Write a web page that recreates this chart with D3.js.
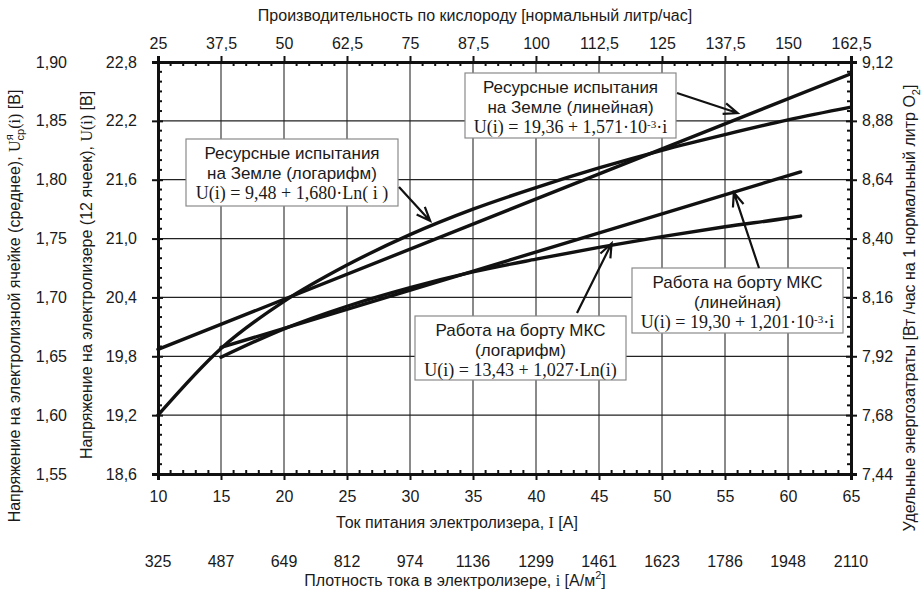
<!DOCTYPE html>
<html>
<head>
<meta charset="utf-8">
<script src="https://cdn.jsdelivr.net/npm/d3@7"></script>
<style>
body { margin: 0; background: #fff; }
svg text { font-family: "Liberation Sans", Arial, sans-serif; fill: #1a1a1a; }
.serif { font-family: "Liberation Serif", "Times New Roman", serif; }
</style>
</head>
<body>
<svg id="chart" width="924" height="594"></svg>
<script>
// axis ticks
const currentTicks = [10, 15, 20, 25, 30, 35, 40, 45, 50, 55, 60, 65]
const productivityTicks = ['25', '37,5', '50', '62,5', '75', '87,5', '100', '112,5', '125', '137,5', '150', '162,5']
const densityTicks = ['325', '487', '649', '812', '974', '1136', '1299', '1461', '1623', '1786', '1948', '2110']
const voltageTicks = [18.6, 19.2, 19.8, 20.4, 21.0, 21.6, 22.2, 22.8]
const cellTicks = [1.55, 1.60, 1.65, 1.70, 1.75, 1.80, 1.85, 1.90]
const energyTicks = [7.44, 7.68, 7.92, 8.16, 8.40, 8.64, 8.88, 9.12]

// series: current I [A] -> voltage U [V]
const earthLogI = [10, 15, 20, 25, 30, 35, 40, 45, 50, 55, 60, 65]
const earthLogU = [19.20, 19.88, 20.36, 20.73, 21.04, 21.30, 21.52, 21.72, 21.90, 22.06, 22.21, 22.34]
const earthLinI = [10, 65]
const earthLinU = [19.87, 22.68]
const issLogI = [15, 20, 25, 30, 35, 40, 45, 50, 55, 60, 61]
const issLogU = [19.79, 20.08, 20.31, 20.50, 20.66, 20.79, 20.91, 21.02, 21.12, 21.21, 21.23]
const issLinI = [15, 61]
const issLinU = [19.89, 21.68]

const margin = {top: 62, right: 73, bottom: 120, left: 158}
const W = 924, H = 594
const width = W - margin.left - margin.right
const height = H - margin.top - margin.bottom

const svg = d3.select('#chart')
const g = svg.append('g').attr('transform', `translate(${margin.left},${margin.top})`)

const x = d3.scaleLinear().domain([10, 65]).range([0, width])
const y = d3.scaleLinear().domain([18.6, 22.8]).range([height, 0])
const xTop = d3.scaleLinear().domain([25, 162.5]).range([0, width])
const yCell = d3.scaleLinear().domain([1.55, 1.90]).range([height, 0])
const yEnergy = d3.scaleLinear().domain([7.44, 9.12]).range([height, 0])
const comma = f => d => d3.format(f)(d).replace('.', ',')

// grid
g.append('g').selectAll('line').data(currentTicks.slice(1, -1)).enter().append('line')
  .attr('x1', d => x(d)).attr('x2', d => x(d)).attr('y1', 0).attr('y2', height)
  .attr('stroke', '#8a8a8a').attr('stroke-width', 2)
g.append('g').selectAll('line').data(voltageTicks.slice(1, -1)).enter().append('line')
  .attr('x1', 0).attr('x2', width).attr('y1', d => y(d)).attr('y2', d => y(d))
  .attr('stroke', '#222').attr('stroke-width', 1.2)

// curves
const series = [
  [earthLogI, earthLogU], [earthLinI, earthLinU],
  [issLogI, issLogU], [issLinI, issLinU]
]
const line = d3.line().x(d => x(d[0])).y(d => y(d[1])).curve(d3.curveMonotoneX)
g.append('g').selectAll('path').data(series).enter().append('path')
  .attr('d', s => line(s[0].map((v, i) => [v, s[1][i]])))
  .attr('fill', 'none').attr('stroke', '#111').attr('stroke-width', 3.4)
  .attr('stroke-linecap', 'round')

// minor ticks
const minorX = d3.range(10, 65.01, 1).filter(d => d % 5 !== 0)
const minorY = d3.range(18.6, 22.81, 0.1).filter(d => Math.abs((d - 18.6) / 0.6 - Math.round((d - 18.6) / 0.6)) > 0.01)
const minor = g.append('g').attr('stroke', '#111').attr('stroke-width', 2)
minor.selectAll('.mb').data(minorX).enter().append('line')
  .attr('x1', d => x(d)).attr('x2', d => x(d)).attr('y1', height).attr('y2', height - 4)
minor.selectAll('.mt').data(minorX).enter().append('line')
  .attr('x1', d => x(d)).attr('x2', d => x(d)).attr('y1', 0).attr('y2', 4)
minor.selectAll('.ml').data(minorY).enter().append('line')
  .attr('x1', 0).attr('x2', 4).attr('y1', d => y(d)).attr('y2', d => y(d))
minor.selectAll('.mr').data(minorY).enter().append('line')
  .attr('x1', width).attr('x2', width - 4).attr('y1', d => y(d)).attr('y2', d => y(d))

// axes
function style(a) {
  a.selectAll('text').attr('font-size', 16).attr('fill', '#1a1a1a')
  a.selectAll('line').attr('stroke', '#111').attr('stroke-width', 2)
  a.select('.domain').attr('stroke', '#111').attr('stroke-width', 3)
}
g.append('g').attr('transform', `translate(0,${height})`)
  .call(d3.axisBottom(x).tickValues(currentTicks).tickSize(6).tickPadding(11))
  .call(style)
g.append('g')
  .call(d3.axisTop(xTop).tickValues(d3.range(25, 162.6, 12.5))
    .tickFormat((d, i) => productivityTicks[i]).tickSize(6).tickPadding(7))
  .call(style)
g.append('g')
  .call(d3.axisLeft(y).tickValues(voltageTicks).tickFormat(comma('.1f')).tickSize(6).tickPadding(15))
  .call(style)
  .call(a => a.selectAll('.tick line').attr('x1', 5))
g.append('g').attr('transform', `translate(${width},0)`)
  .call(d3.axisRight(yEnergy).tickValues(energyTicks).tickFormat(comma('.2f')).tickSize(6).tickPadding(5))
  .call(style)
  .call(a => a.selectAll('.tick line').attr('x1', -5))
g.append('g').attr('transform', 'translate(-87,0)')
  .call(d3.axisLeft(yCell).tickValues(cellTicks).tickFormat(comma('.2f')).tickSize(0).tickPadding(4))
  .call(style)
  .call(a => a.select('.domain').remove())

// density row
g.append('g').selectAll('text').data(densityTicks).enter().append('text')
  .attr('x', (d, i) => x(currentTicks[i])).attr('y', height + 93)
  .attr('text-anchor', 'middle').attr('font-size', 16).text(d => d)

// axis titles
svg.append('text').attr('x', 475).attr('y', 21).attr('text-anchor', 'middle')
  .attr('font-size', 16).text('Производительность по кислороду [нормальный литр/час]')

const t1 = svg.append('text').attr('x', 457).attr('y', 528).attr('text-anchor', 'middle').attr('font-size', 16)
t1.append('tspan').text('Ток питания электролизера, ')
t1.append('tspan').attr('class', 'serif').text('I')
t1.append('tspan').text(' [A]')

const t2 = svg.append('text').attr('x', 455).attr('y', 586).attr('text-anchor', 'middle').attr('font-size', 16)
t2.append('tspan').text('Плотность тока в электролизере, ')
t2.append('tspan').attr('class', 'serif').text('i')
t2.append('tspan').text(' [A/м')
t2.append('tspan').attr('dy', -7).attr('font-size', 11).text('2')
t2.append('tspan').attr('dy', 7).text(']')

const t3 = svg.append('text').attr('transform', 'translate(20,306) rotate(-90)')
  .attr('text-anchor', 'middle').attr('font-size', 16)
t3.append('tspan').text('Напряжение на электролизной ячейке (среднее), ')
t3.append('tspan').attr('class', 'serif').text('U')
t3.append('tspan').attr('dy', -7).attr('font-size', 11).text('я')
t3.append('tspan').attr('dx', -6).attr('dy', 11).attr('font-size', 11).text('ср')
t3.append('tspan').attr('dy', -4).attr('class', 'serif').text('(i)')
t3.append('tspan').text(' [B]')

const t4 = svg.append('text').attr('transform', 'translate(92,275) rotate(-90)')
  .attr('text-anchor', 'middle').attr('font-size', 16)
t4.append('tspan').text('Напряжение на электролизере (12 ячеек), ')
t4.append('tspan').attr('class', 'serif').text('U(i)')
t4.append('tspan').text(' [B]')

const t5 = svg.append('text').attr('transform', 'translate(915,308) rotate(-90)')
  .attr('text-anchor', 'middle').attr('font-size', 16)
t5.append('tspan').text('Удельные энергозатраты [Вт /час на 1 нормальный литр O')
t5.append('tspan').attr('dy', 5).attr('font-size', 11).text('2')
t5.append('tspan').attr('dy', -5).text(']')

// annotation boxes
const boxes = [
  {x: 186, y: 139, w: 212, h: 67, head: ['Ресурсные испытания', 'на Земле (логарифм)'],
   formula: ['U(i) = 9,48 + 1,680·Ln( i )'], from: [399, 187], to: [31.6, 21.18]},
  {x: 465, y: 73, w: 211, h: 65, head: ['Ресурсные испытания', 'на Земле (линейная)'],
   formula: ['U(i) = 19,36 + 1,571·10', '-3', '·i'], from: [677, 93], to: [56.0, 22.28]},
  {x: 415, y: 316, w: 211, h: 64, head: ['Работа на борту МКС', '(логарифм)'],
   formula: ['U(i) = 13,43 + 1,027·Ln(i)'], from: [577, 313], to: [46.0, 20.95]},
  {x: 632, y: 268, w: 211, h: 65, head: ['Работа на борту МКС', '(линейная)'],
   formula: ['U(i) = 19,30 + 1,201·10', '-3', '·i'], from: [759, 268], to: [55.7, 21.47]}
]
const ann = svg.append('g')
boxes.forEach(b => {
  ann.append('rect').attr('x', b.x).attr('y', b.y).attr('width', b.w).attr('height', b.h)
    .attr('fill', '#fff').attr('stroke', '#8a8a8a').attr('stroke-width', 1.2)
  b.head.forEach((s, i) => ann.append('text').attr('x', b.x + b.w / 2).attr('y', b.y + 20 + i * 20)
    .attr('text-anchor', 'middle').attr('font-size', 17).text(s))
  const f = ann.append('text').attr('class', 'serif').attr('x', b.x + b.w / 2).attr('y', b.y + 60)
    .attr('text-anchor', 'middle').attr('font-size', 18)
  f.append('tspan').text(b.formula[0])
  if (b.formula.length > 1) {
    f.append('tspan').attr('dy', -5).attr('font-size', 11).text(b.formula[1])
    f.append('tspan').attr('dy', 5).text(b.formula[2])
  }
  const tx = margin.left + x(b.to[0]), ty = margin.top + y(b.to[1])
  const a = Math.atan2(ty - b.from[1], tx - b.from[0])
  const L = 15, th = 0.38
  ann.append('path')
    .attr('d', `M${b.from[0]},${b.from[1]}L${tx},${ty}` +
      `M${tx - L * Math.cos(a - th)},${ty - L * Math.sin(a - th)}L${tx},${ty}` +
      `L${tx - L * Math.cos(a + th)},${ty - L * Math.sin(a + th)}`)
    .attr('fill', 'none').attr('stroke', '#111').attr('stroke-width', 2.2)
})
</script>
</body>
</html>
